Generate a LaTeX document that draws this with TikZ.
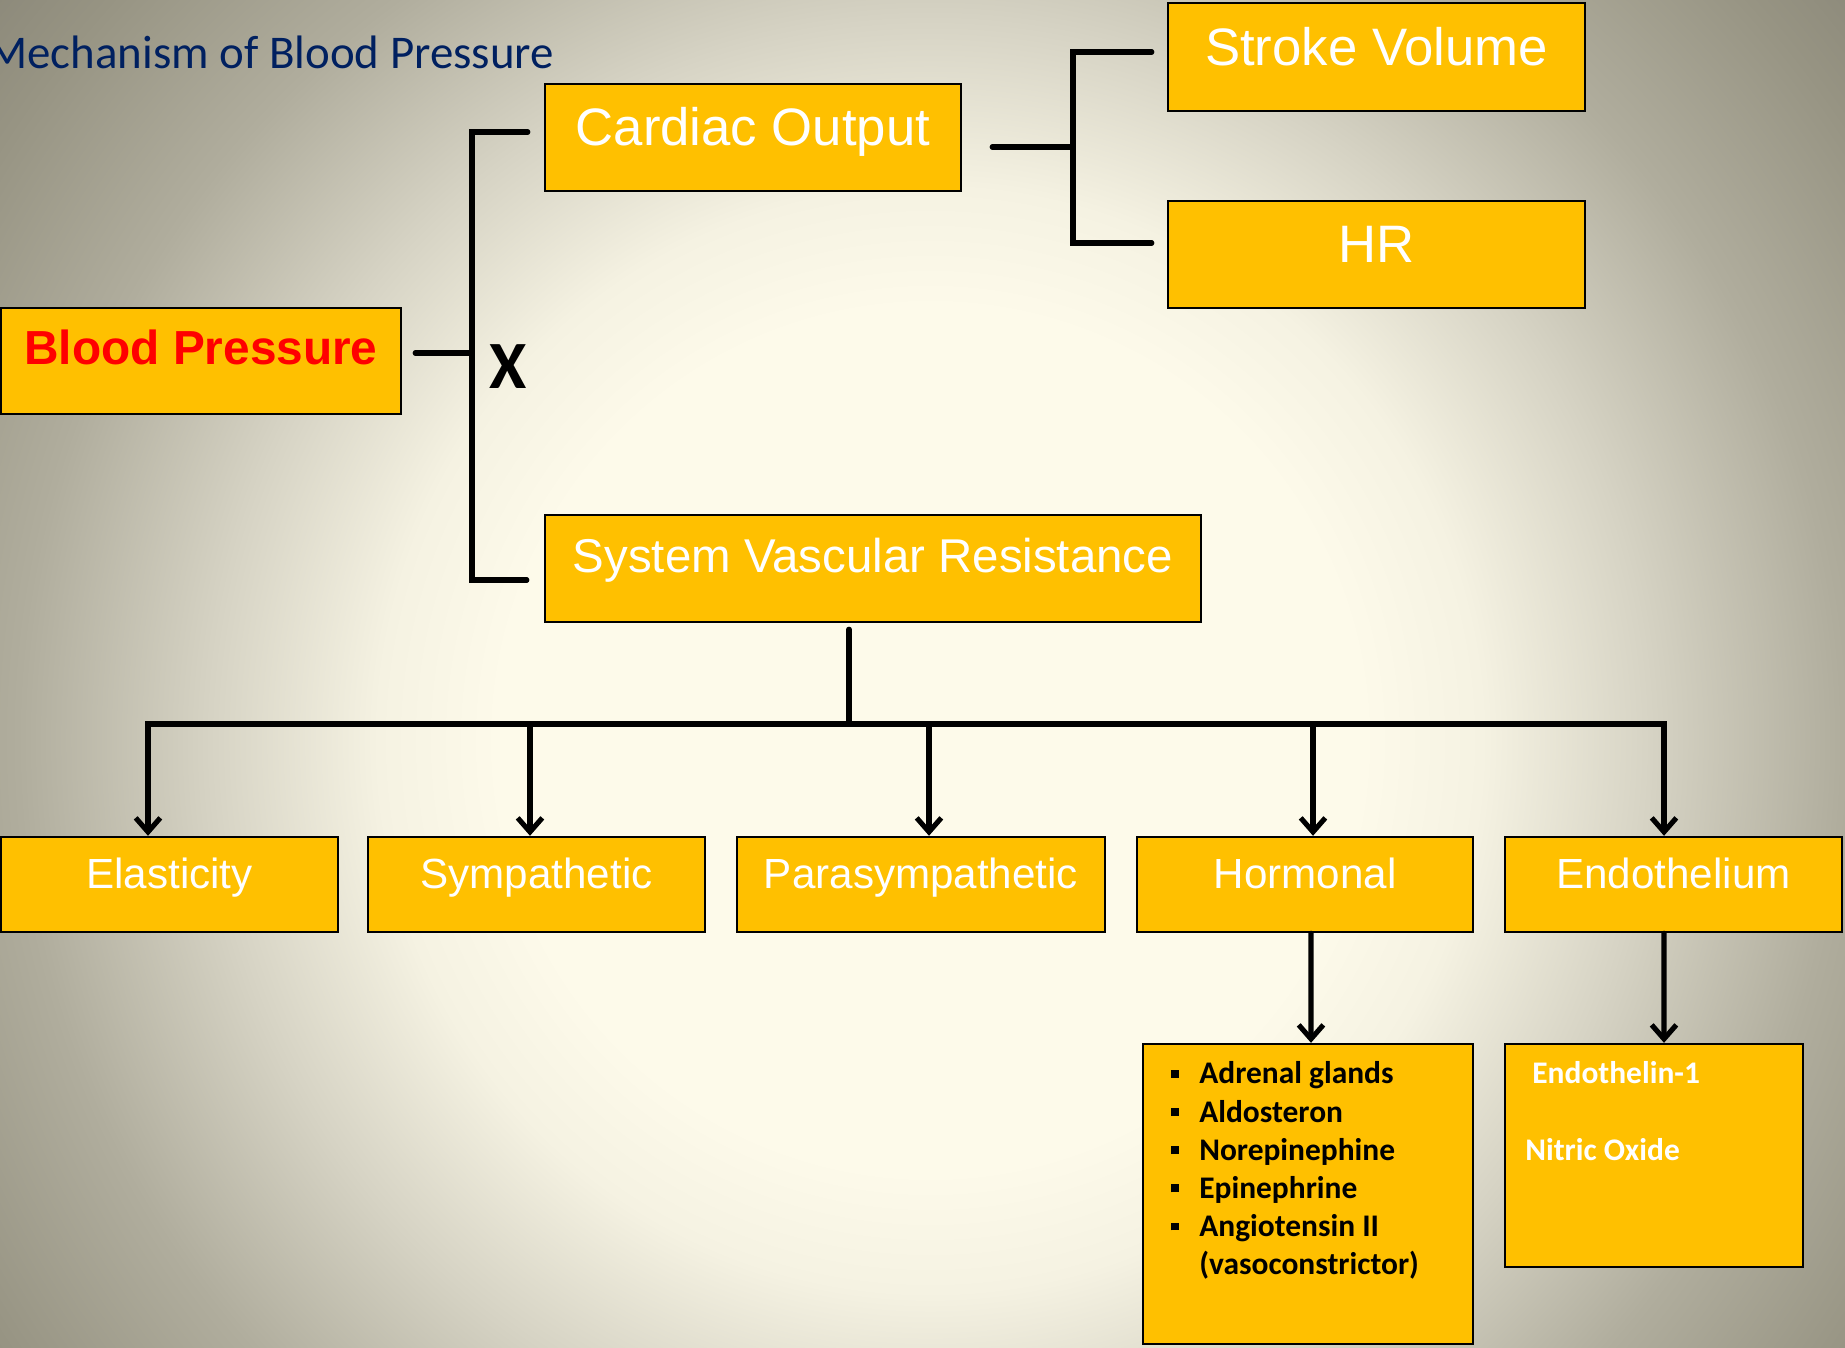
\documentclass[tikz,border=0pt]{standalone}
\usepackage{fontspec}
\setmainfont{Liberation Sans}
\newfontfamily\calfont{Carlito}
\usepackage{xcolor}
\usepackage{tikz}
\usetikzlibrary{arrows.meta}

\definecolor{boxgold}{HTML}{FFC000}
\definecolor{titleblue}{HTML}{002060}
\definecolor{bgA}{HTML}{FDFAEA}
\definecolor{bgB}{HTML}{F5F2E2}
\definecolor{bgC}{HTML}{D6D3C4}
\definecolor{bgD}{HTML}{B0AD9D}
\definecolor{bgE}{HTML}{979483}
\definecolor{bgF}{HTML}{8C897A}
\pgfdeclareradialshading{slidebg}{\pgfpoint{0bp}{0bp}}{color(0bp)=(bgA); color(9bp)=(bgA); color(11.5bp)=(bgB); color(15bp)=(bgC); color(19bp)=(bgD); color(23bp)=(bgE); color(25bp)=(bgF); color(50bp)=(bgF)}

\newcommand{\blt}{\makebox[15.9pt][l]{\rule[3.4pt]{4.5pt}{4.5pt}}}

\tikzset{
  box/.style={draw=black, line width=1.4pt, fill=boxgold, inner sep=0pt},
  toptext/.style={text=white, font=\fontsize{30}{36}\selectfont, text height=21.5pt, text depth=11.9pt},
  lowtext/.style={text=white, font=\fontsize{24}{28}\selectfont, text height=17pt, text depth=13pt, minimum height=1.9cm},
  listtext/.style={anchor=base west, inner sep=0pt, align=left, font=\calfont\bfseries\fontsize{17.9}{21.7}\selectfont},
  link/.style={line width=2.9pt, line cap=round},
  arrow/.style={link, -{Straight Barb[length=8pt, width=14pt]}},
}

\begin{document}
\begin{tikzpicture}[x=0.02cm, y=-0.02cm]
\useasboundingbox (0,0) rectangle (1845,1347);
\begin{scope}
\clip (0,0) rectangle (1845,1347);
\shade[shading=slidebg] (-270,-460) rectangle (2130,1940);
\end{scope}

\node[anchor=base west, inner sep=0pt, text=titleblue, font=\calfont\fontsize{26.7}{30}\selectfont] (title) at (-13,68) {Mechanism of Blood Pressure};

\node[box, toptext, minimum width=8.32cm, minimum height=2.14cm] (co) at (753,137.5) {Cardiac Output};
\node[box, toptext, minimum width=8.34cm, minimum height=2.15cm] (sv) at (1376.5,57) {Stroke Volume};
\node[box, toptext, minimum width=8.34cm, minimum height=2.14cm] (hr) at (1376.5,254.5) {HR};
\node[box, text=red, font=\bfseries\fontsize{27.2}{32}\selectfont, text height=19.4pt, text depth=16pt, minimum width=8cm, minimum height=2.12cm] (bp) at (201,361) {Blood Pressure};
\node[box, toptext, font=\fontsize{27}{32}\selectfont, text height=19.3pt, text depth=15.3pt, minimum width=13.12cm, minimum height=2.14cm] (svr) at (873,568.5) {System Vascular Resistance};

\node[box, lowtext, minimum width=6.74cm] (ela) at (169.5,884.5) {Elasticity};
\node[box, lowtext, minimum width=6.74cm] (sym) at (536.5,884.5) {Sympathetic};
\node[box, lowtext, minimum width=7.36cm] (para) at (921,884.5) {Parasympathetic};
\node[box, lowtext, minimum width=6.72cm] (horm) at (1305,884.5) {Hormonal};
\node[box, lowtext, minimum width=6.74cm] (endo) at (1673.5,884.5) {Endothelium};

\node[box, minimum width=6.6cm, minimum height=6cm] (hlist) at (1308,1194) {};
\node[listtext] (hitems) at (1171,1274.5) {\blt Adrenal glands\\ \blt Aldosteron\\ \blt Norepinephine\\ \blt Epinephrine\\ \blt Angiotensin II\\ \hspace*{15.9pt}(vasoconstrictor)};
\node[box, minimum width=5.96cm, minimum height=4.46cm] (elist) at (1654,1155.5) {};
\node[listtext, text=white] (eitems) at (1525,1160) {\hspace*{4pt}Endothelin-1\\[21.7pt]Nitric Oxide};

\node[anchor=base, inner sep=0pt, font=\calfont\bfseries\fontsize{38.5}{44}\selectfont] (times) at (508,388) {X};

\coordinate (bpj) at (472,353);
\coordinate (brtop) at (472,132);
\coordinate (brbot) at (472,580);
\draw[link, shorten <=0.26cm] (bp.east |- bpj) -- (bpj);
\draw[link, shorten <=0.32cm, shorten >=0.34cm] (co.west |- brtop) -- (brtop) -- (brbot) -- (svr.west |- brbot);

\coordinate (cvj) at (1073,147);
\coordinate (cvtop) at (1073,52);
\coordinate (cvbot) at (1073,243);
\draw[link, shorten <=0.6cm] (co.east |- cvj) -- (cvj);
\draw[link, shorten <=0.3cm, shorten >=0.3cm] (sv.west |- cvtop) -- (cvtop) -- (cvbot) -- (hr.west |- cvbot);

\coordinate (bus) at (849,724);
\coordinate (d1) at (148,724);
\coordinate (d2) at (530,724);
\coordinate (d3) at (929,724);
\coordinate (d4) at (1313,724);
\coordinate (d5) at (1664,724);
\draw[link, shorten <=0.12cm] (svr.south -| bus) -- (bus);
\draw[arrow] (bus) -- (d1) -- (d1 |- ela.north);
\draw[arrow] (bus) -- (d5) -- (d5 |- endo.north);
\foreach \d/\n in {d2/sym, d3/para, d4/horm}
  \draw[arrow] (\d) -- (\d |- \n.north);

\draw[arrow] ([xshift=0.12cm]horm.south) -- ([xshift=0.06cm]hlist.north);
\draw[arrow] ([xshift=-0.19cm]endo.south) -- ([xshift=0.2cm]elist.north);
\end{tikzpicture}
\end{document}
